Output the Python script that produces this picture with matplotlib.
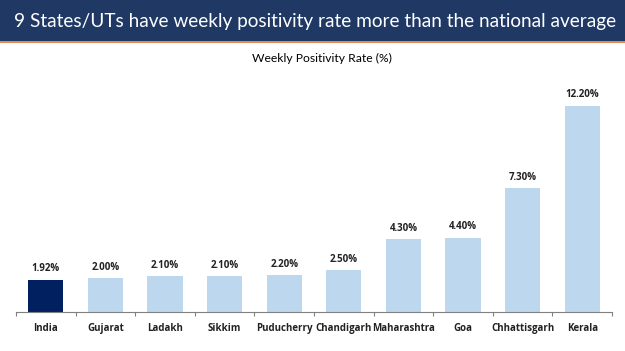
import matplotlib
matplotlib.use('Agg')
from matplotlib import pyplot as plt
from matplotlib.patches import Rectangle

# data
states = ['India', 'Gujarat', 'Ladakh', 'Sikkim', 'Puducherry', 'Chandigarh',
          'Maharashtra', 'Goa', 'Chhattisgarh', 'Kerala']
rates = [1.92, 2.00, 2.10, 2.10, 2.20, 2.50, 4.30, 4.40, 7.30, 12.20]
labels = ['1.92%', '2.00%', '2.10%', '2.10%', '2.20%', '2.50%', '4.30%', '4.40%', '7.30%', '12.20%']

plt.rcParams['font.family'] = ['Lato', 'DejaVu Sans']

fig = plt.figure(figsize=(6.25, 3.51), dpi=100)

# header band
fig.patches.append(Rectangle((0, 1 - 41/351), 1, 41/351, transform=fig.transFigure,
                             facecolor='#1F3864', edgecolor='none', zorder=0))
fig.patches.append(Rectangle((0, 1 - 43/351), 1, 2/351, transform=fig.transFigure,
                             facecolor='#E08A55', edgecolor='none', zorder=0))
fig.text(0.504, 1 - 21/351, '9 States/UTs have weekly positivity rate more than the national average',
         color='white', fontsize=13.7, ha='center', va='center')
fig.text(0.515, 1 - 58/351, 'Weekly Positivity Rate (%)', color='black', fontsize=8.7,
         ha='center', va='center')

bold = ['Open Sans', 'DejaVu Sans']
ax = fig.add_axes([16/625, 39/351, (612-16)/625, (312-92)/351])
x = list(range(len(states)))
colors = ['#002060'] + ['#BDD7EE'] * (len(states) - 1)
bars = ax.bar(x, rates, width=0.59, color=colors)
for b, lab in zip(bars, labels):
    ax.text(b.get_x() + b.get_width()/2, b.get_height() + 0.3, lab, ha='center', va='bottom',
            fontsize=7, fontweight='bold', color='#222222', family=bold)

ax.set_xlim(-0.5, len(states) - 0.5)
ax.set_ylim(0, 13)
ax.set_yticks([])
ax.set_xticks([i - 0.5 for i in range(len(states) + 1)])
ax.set_xticklabels([])
ax.set_xticks(x, minor=True)
ax.set_xticklabels(states, minor=True, fontsize=7, fontweight='bold', color='#222222', family=bold)
ax.tick_params(axis='x', which='minor', length=0, pad=8)
ax.tick_params(axis='x', which='major', length=3, color='#808080', direction='out')
for s in ['top', 'right', 'left']:
    ax.spines[s].set_visible(False)
ax.spines['bottom'].set_color('#808080')

fig.savefig('out.png', dpi=100)
